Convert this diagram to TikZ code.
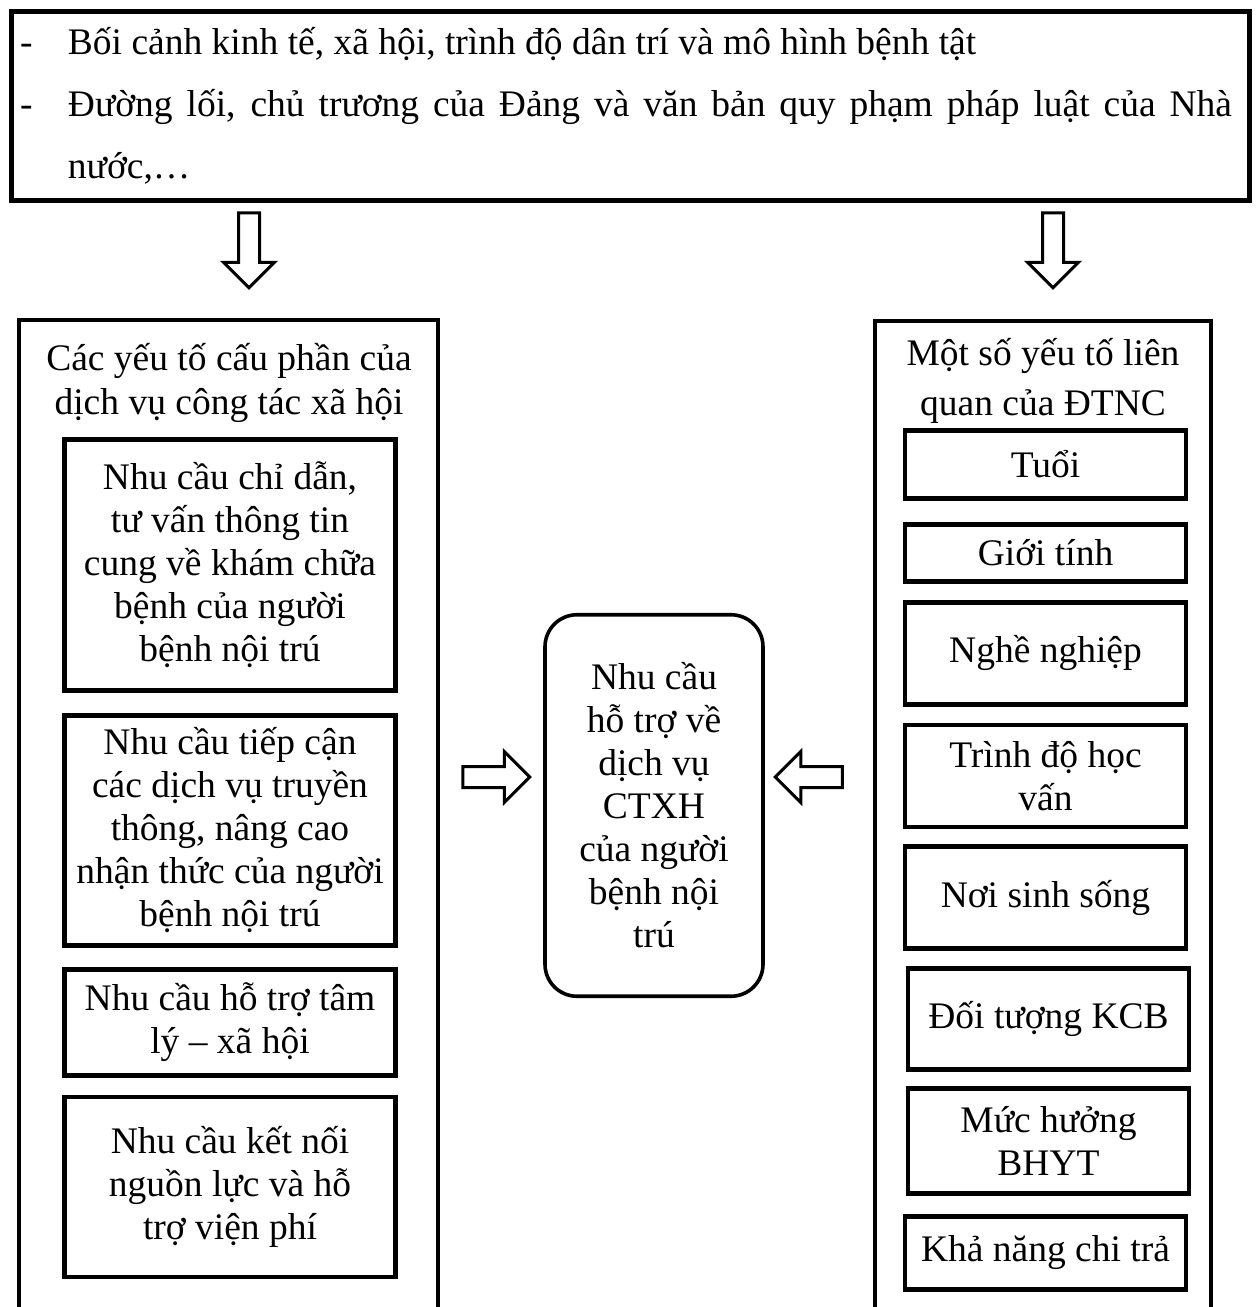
\documentclass[tikz,border=0pt]{standalone}
\usepackage{fontspec}
\setmainfont{Liberation Serif}
\usetikzlibrary{positioning,shapes.arrows}

\begin{document}
\begin{tikzpicture}[
                    x=0.5pt, y=-0.5pt,
                    every node/.style={
                        font=\fontsize{18.75}{21.5}\selectfont,
                        align=center,
                        inner sep=0pt
                    },
                    topbox/.style={draw, line width=2.5pt, minimum width=619pt, minimum height=94.5pt},
                    colbox/.style={draw, line width=2pt, minimum height=520pt, anchor=north west},
                    leftbox/.style={draw, line width=2.4pt, minimum width=165.5pt},
                    rightbox/.style={draw, line width=2.4pt, minimum width=140.5pt},
                    needbox/.style={draw, line width=1.8pt, rounded corners=16pt, minimum width=109pt, minimum height=190.75pt},
                    bigarrow/.style={draw, single arrow, line width=1.5pt, single arrow head extend=7.5pt,
                        inner xsep=0pt, inner ysep=4.5pt}
                ]
                    \useasboundingbox (0,0) rectangle (1256,1307);

                    % Context
                    \node[topbox, anchor=north west, align=flush left, text width=610.5pt, inner xsep=4.25pt,
                          font=\fontsize{18.75}{31}\selectfont] (context) at (9,9)
                        {\makebox[24pt][l]{-}Bối cảnh kinh tế, xã hội, trình độ dân trí và mô hình bệnh tật\\
                         \makebox[24pt][l]{-}\makebox[582pt][s]{Đường lối, chủ trương của Đảng và văn bản quy phạm pháp luật của Nhà}\\
                         \hspace*{24pt}nước,…};

                    % Columns
                    \node[colbox, minimum width=209.5pt] (left) at (17,318) {};
                    \node[colbox, minimum width=168pt] (right) at (873,319) {};
                    \node (lefttitle) at (229,383) {Các yếu tố cấu phần của\\[0.5pt] dịch vụ công tác xã hội};
                    \node (righttitle) at (1043,381) {Một số yếu tố liên\\[3.5pt] quan của ĐTNC};

                    % Components
                    \node[leftbox, minimum height=125.5pt] (l1) at (230,565)
                        {Nhu cầu chỉ dẫn,\\ tư vấn thông tin\\ cung về khám chữa\\ bệnh của người\\ bệnh nội trú};
                    \node[leftbox, minimum height=115pt] (l2) [below=10pt of l1]
                        {Nhu cầu tiếp cận\\ các dịch vụ truyền\\ thông, nâng cao\\ nhận thức của người\\ bệnh nội trú};
                    \node[leftbox, minimum height=53pt] (l3) [below=9.5pt of l2]
                        {Nhu cầu hỗ trợ tâm\\ lý – xã hội};
                    \node[leftbox, minimum height=90pt] (l4) [below=8.5pt of l3]
                        {Nhu cầu kết nối\\ nguồn lực và hỗ\\ trợ viện phí};

                    % Factors
                    \node[rightbox, minimum height=34pt] (r1) at (1045.5,464.5) {Tuổi};
                    \node[rightbox, minimum height=28.5pt] (r2) [below=10.5pt of r1] {Giới tính};
                    \node[rightbox, minimum height=51pt] (r3) [below=8pt of r2] {Nghề nghiệp};
                    \node[rightbox, minimum height=51pt] (r4) [below=8pt of r3] {Trình độ học\\ vấn};
                    \node[rightbox, minimum height=51pt] (r5) [below=7.5pt of r4] {Nơi sinh sống};
                    \node[rightbox, minimum height=50.5pt] (r6) [below=7.5pt of r5, xshift=1.5pt] {Đối tượng KCB};
                    \node[rightbox, minimum height=52.5pt] (r7) [below=7pt of r6] {Mức hưởng\\ BHYT};
                    \node[rightbox, minimum height=36.5pt] (r8) [below=9pt of r7, xshift=-1.5pt] {Khả năng chi trả};

                    % Need
                    \node[needbox] (need) at (654,805.5)
                        {Nhu cầu\\ hỗ trợ về\\ dịch vụ\\ CTXH\\ của người\\ bệnh nội\\ trú};

                    % Arrows
                    \node[bigarrow, minimum height=37.5pt, rotate=-90] (downleft) at (249,245) {};
                    \node[bigarrow, minimum height=37.5pt, rotate=-90] (downright) at (1053,245) {};
                    \node[bigarrow, minimum height=33.5pt] (toneed) at (491,777) {};
                    \node[bigarrow, minimum height=33.5pt, rotate=180] (fromright) at (814,777) {};
                \end{tikzpicture}
\end{document}
